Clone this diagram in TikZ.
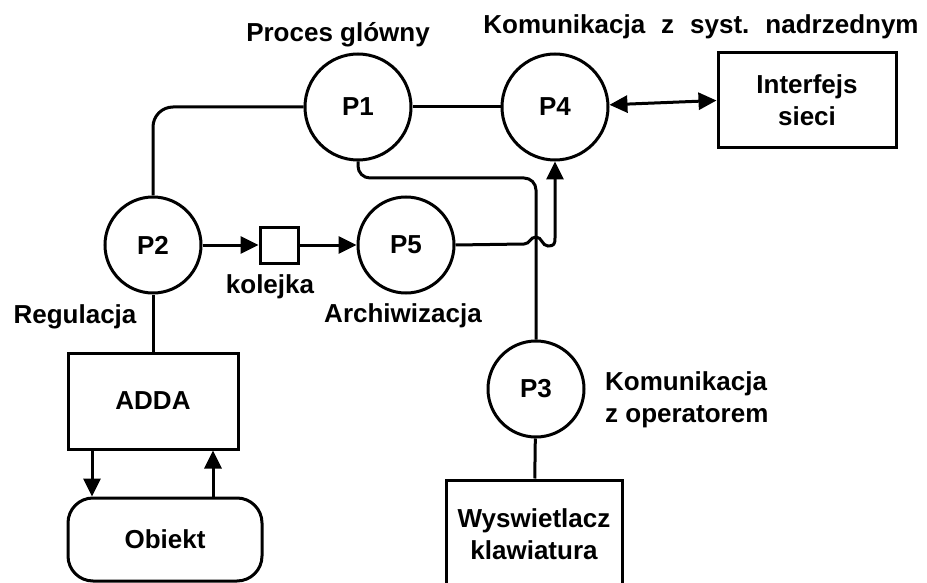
\documentclass[tikz,border=0pt]{standalone}
\usepackage{fontspec}
\setmainfont{Liberation Sans}
\usetikzlibrary{arrows.meta}
\newcommand\dfont{\fontsize{26}{32}\selectfont\bfseries}
\tikzset{
  base/.style={line width=3pt},
  bigproc/.style={base,circle,draw,minimum size=106pt,inner sep=0pt,font=\dfont},
  proc/.style={base,circle,draw,minimum size=96pt,inner sep=0pt,font=\dfont},
  box/.style={base,rectangle,draw,inner sep=0pt,font=\dfont,align=center},
  lbl/.style={font=\dfont,inner sep=0pt,align=left},
  wire/.style={base},
  arr/.style={base,-{Triangle[length=18pt,width=17pt]}},
  darr/.style={base,{Triangle[length=18pt,width=17pt]}-{Triangle[length=18pt,width=17pt]}},
}
\begin{document}
\begin{tikzpicture}[x=1pt,y=-1pt]
\useasboundingbox (0,0) rectangle (927,583);
\clip (0,0) rectangle (927,583);
% processes
\node[bigproc] (P1) at (358,107) {P1};
\node[bigproc] (P4) at (555,107) {P4};
\node[proc] (P2) at (153,245) {P2};
\node[proc] (P5) at (406,245) {P5};
\node[proc] (P3) at (536,389) {P3};
% boxes
\node[box,minimum width=170pt,minimum height=96pt] (ADDA) at (153,401) {ADDA};
\node[box,minimum width=194pt,minimum height=83pt,rounded corners=25pt] (OB) at (165,539.5) {Obiekt};
\node[box,minimum width=178pt,minimum height=95pt] (IS) at (807,100.5) {Interfejs\\sieci};
\node[box,minimum width=176pt,minimum height=108pt] (WK) at (534,534) {Wyswietlacz\\klawiatura};
\node[base,rectangle,draw,minimum width=38pt,minimum height=36pt,inner sep=0pt] (Q) at (279,245) {};
% labels
\node[lbl] (lP1) at (338,35) {Proces glówny};
\node[lbl] (lP4) at (701,27) {Komunikacja\hspace{16pt}z\hspace{16pt}syst.\hspace{16pt}nadrzednym};
\node[lbl] (lQ) at (270,287) {kolejka};
\node[lbl] (lP2) at (75,317) {Regulacja};
\node[lbl] (lP5) at (403,316) {Archiwizacja};
\node[lbl,anchor=west] (lP3) at (605,400) {Komunikacja\\z operatorem};
% connectors
\draw[wire] (P1) -- (P4);
\draw[wire,rounded corners=20pt] (P2.north) |- (P1.west);
\draw[wire,rounded corners=12pt] (P1.south) -- (358,178) -- (536,178) -- (P3.north);
\draw[wire] (P2) -- (ADDA);
\draw[wire] (P3) -- (WK);
\draw[arr] (P2) -- (Q);
\draw[arr] (Q) -- (P5);
\draw[arr] (P5.east) -- (524,244) .. controls (530,244) and (530,237) .. (536,237)
  .. controls (542,237) and (542,246) .. (548,246)
  .. controls (554,246) and (555,244) .. (555,238) -- (P4.south);
\draw[darr] (P4) -- (IS.west);
\draw[arr] (ADDA.south -| 92,0) -- (OB.north -| 92,0);
\draw[arr] (OB.north -| 213,0) -- (ADDA.south -| 213,0);
\end{tikzpicture}
\end{document}
